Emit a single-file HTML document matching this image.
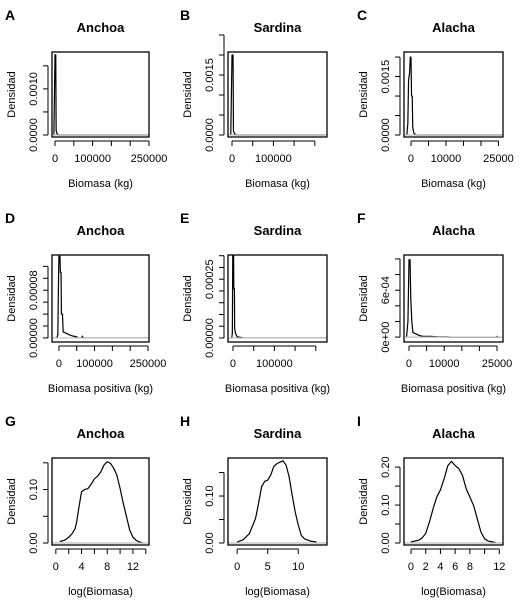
<!DOCTYPE html>
<html><head><meta charset="utf-8">
<style>
html,body{margin:0;padding:0;background:#fff;}
svg{display:block;font-family:"Liberation Sans",Arial,sans-serif;}
</style></head>
<body>
<svg id="fig" width="529" height="610" viewBox="0 0 529 610"></svg>
<script>
// ---- data arrays ----
const panelLetters = ["A","B","C","D","E","F","G","H","I"];
const panelTitles = ["Anchoa","Sardina","Alacha","Anchoa","Sardina","Alacha","Anchoa","Sardina","Alacha"];
const xTitles = ["Biomasa (kg)","Biomasa (kg)","Biomasa (kg)","Biomasa positiva (kg)","Biomasa positiva  (kg)","Biomasa positiva (kg)","log(Biomasa)","log(Biomasa)","log(Biomasa)"];

const xTicksA = [0,50000,100000,150000,200000,250000];
const xLabelsA = ["0","","100000","","","250000"];
const xTicksB = [0,50000,100000,150000,200000];
const xLabelsB = ["0","","100000","",""];
const xTicksC = [0,5000,10000,15000,20000,25000];
const xLabelsC = ["0","","10000","","","25000"];
const xTicksG = [0,2,4,6,8,10,12,14];
const xLabelsG = ["0","","4","","8","","12",""];
const xTicksH = [0,5,10];
const xLabelsH = ["0","5","10"];
const xTicksI = [0,2,4,6,8,10,12];
const xLabelsI = ["0","2","4","6","8","","12"];

const yTicksA = [0,0.0005,0.001,0.0015];
const yLabelsA = ["0.0000","","0.0010",""];
const yTicksB = [0,0.0005,0.001,0.0015,0.002,0.0025];
const yLabelsB = ["0.0000","","","0.0015","",""];
const yTicksC = [0,0.0005,0.001,0.0015,0.002];
const yLabelsC = ["0.0000","","","0.0015",""];
const yTicksD = [0,0.00002,0.00004,0.00006,0.00008,0.0001,0.00012];
const yLabelsD = ["0.00000","","","","0.00008","",""];
const yTicksE = [0,0.00005,0.0001,0.00015,0.0002,0.00025,0.0003,0.00035];
const yLabelsE = ["0.00000","","","","","0.00025","",""];
const yTicksF = [0,0.0002,0.0004,0.0006,0.0008,0.001];
const yLabelsF = ["0e+00","","","6e-04","",""];
const yTicksG = [0,0.05,0.1,0.15];
const yLabelsG = ["0.00","","0.10",""];
const yTicksI = [0,0.05,0.1,0.15,0.2];
const yLabelsI = ["0.00","","0.10","","0.20"];

const curveAx = [-3000,0,2000,3000,5000,10000,250000];
const curveAy = [0,0.00174,0.00174,0.0001,0.00003,0,0];
const curveBx = [-3000,0,2500,3500,6000,12000,225000];
const curveBy = [0,0.002,0.002,0.0001,0.00003,0,0];
const curveCx = [-1200,-900,-700,-400,-200,0,150,350,500,800,1500,26000];
const curveCy = [0,0.0003,0.0014,0.0016,0.002,0.002,0.001,0.001,0.0002,0.00005,0,0];
const curveDx = [-6000,-3000,-1500,0,3000,4000,6000,7000,10000,12000,20000,30000,40000,50000,52000,64000,66000,68000,250000];
const curveDy = [0,0.000005,0.00008,0.000137,0.000137,0.00011,0.00011,0.00004,0.00004,0.00001,0.000008,0.000005,0.000003,0.000002,0,0,0.000003,0,0];
const curveEx = [-3000,-1500,-500,1500,2000,3500,4000,6000,10000,20000,25000,225000];
const curveEy = [0,0.00002,0.00035,0.00035,0.00021,0.00021,0.00004,0.00002,0.000005,0.000002,0,0];
const curveFx = [-700,-300,0,300,500,800,1100,1500,2000,2500,3000,4000,6000,8000,11000,12000,24800,25000,25200,26000];
const curveFy = [0,0.0002,0.00099,0.00099,0.0005,0.0002,0.00006,0.00005,0.00004,0.00003,0.00002,0.00001,0.00001,0.000005,0.000003,0,0,0.00001,0,0];
const curveGx = [0.6,1,1.5,2,2.5,3,3.25,3.5,4,4.5,5,5.5,6,6.5,7,7.5,8,8.5,9,9.5,10,10.5,11,11.5,12,12.5,13,13.5];
const curveGy = [0.003,0.004,0.006,0.011,0.017,0.027,0.04,0.06,0.096,0.1,0.102,0.11,0.12,0.125,0.133,0.146,0.152,0.149,0.14,0.127,0.102,0.074,0.049,0.024,0.011,0.005,0.002,0.0005];
const curveHx = [0,1,2,3,3.5,4,4.5,5,5.5,6,6.5,7,7.5,8,8.5,9,9.5,10,10.5,11,12,13];
const curveHy = [0.002,0.007,0.02,0.052,0.084,0.12,0.131,0.134,0.145,0.163,0.169,0.172,0.175,0.166,0.141,0.102,0.066,0.038,0.016,0.009,0.004,0.002];
const curveIx = [0,1,1.5,2,2.5,3,3.5,4,4.5,5,5.5,6,6.5,7,7.5,8,8.5,9,9.5,10,10.5,11,11.5];
const curveIy = [0.003,0.007,0.013,0.025,0.055,0.09,0.121,0.14,0.169,0.204,0.215,0.204,0.196,0.178,0.143,0.121,0.099,0.064,0.029,0.011,0.005,0.003,0.001];

// ---- layout ----
const colBox = [[52,149],[228,327],[404,503]];
const rowBox = [[52,137],[255,342],[458,545]];
const panels = [
 {xd:[-8000,250000], yd:[-0.0000435,0.0018], xt:xTicksA, xl:xLabelsA, yt:yTicksA, yl:yLabelsA, cx:curveAx, cy:curveAy},
 {xd:[-9700,229500], yd:[-0.00005,0.002075], xt:xTicksB, xl:xLabelsB, yt:yTicksB, yl:yLabelsB, cx:curveBx, cy:curveBy},
 {xd:[-2000,26300], yd:[-0.000051,0.00213], xt:xTicksC, xl:xLabelsC, yt:yTicksC, yl:yLabelsC, cx:curveCx, cy:curveCy},
 {xd:[-19400,252800], yd:[-0.0000068,0.000139], xt:xTicksA, xl:xLabelsA, yt:yTicksD, yl:yLabelsD, cx:curveDx, cy:curveDy},
 {xd:[-12000,227000], yd:[-0.0000172,0.000353], xt:xTicksB, xl:xLabelsB, yt:yTicksE, yl:yLabelsE, cx:curveEx, cy:curveEy},
 {xd:[-1420,26700], yd:[-0.0000625,0.00105], xt:xTicksC, xl:xLabelsC, yt:yTicksF, yl:yLabelsF, cx:curveFx, cy:curveFy},
 {xd:[-0.6,14.5], yd:[-0.0037,0.159], xt:xTicksG, xl:xLabelsG, yt:yTicksG, yl:yLabelsG, cx:curveGx, cy:curveGy},
 {xd:[-1.5,14.7], yd:[-0.0043,0.181], xt:xTicksH, xl:xLabelsH, yt:yTicksG, yl:yLabelsG, cx:curveHx, cy:curveHy},
 {xd:[-0.95,12.5], yd:[-0.0053,0.224], xt:xTicksI, xl:xLabelsI, yt:yTicksI, yl:yLabelsI, cx:curveIx, cy:curveIy}
];
const letterX = [5,180,357];
const NS = "http://www.w3.org/2000/svg";
const svg = document.getElementById('fig');
function mk(tag, attrs, parent){const e=document.createElementNS(NS,tag);for(const k in attrs)e.setAttribute(k,attrs[k]);(parent||svg).appendChild(e);return e;}

panels.forEach((p,i)=>{
  const c=i%3, r=Math.floor(i/3);
  const [x0,x1]=colBox[c], [y0,y1]=rowBox[r];
  const g=mk('g',{});
  
  
  const sx=v=>x0+(v-p.xd[0])/(p.xd[1]-p.xd[0])*(x1-x0);
  const sy=v=>y1-(v-p.yd[0])/(p.yd[1]-p.yd[0])*(y1-y0);
  const L=mk('text',{x:letterX[c],y:y0-32,'font-size':14,'font-weight':'bold',fill:'#000'},g);
  L.textContent=panelLetters[i];
  
  
  const T=mk('text',{x:(x0+x1)/2,y:y0-20,'font-size':13,'font-weight':'bold','text-anchor':'middle',fill:'#000'},g);
  T.textContent=panelTitles[i];
  
  
  // curve
  const pts=p.cx.map((v,k)=>sx(v).toFixed(2)+','+sy(p.cy[k]).toFixed(2)).join(' ');
  const pl=mk('polyline',{points:pts,fill:'none',stroke:'#000','stroke-width':1.2,'stroke-linejoin':'round'},g);
  
  
  // baseline drawn over the curve
  const b=mk('line',{x1:x0,x2:x1,y1:sy(0),y2:sy(0),stroke:'#bebebe','stroke-width':1.2},g);
  
  
  const bx=mk('rect',{x:x0,y:y0,width:x1-x0,height:y1-y0,fill:'none',stroke:'#000','stroke-width':1.3},g);
  
  
  const ax=y1+4;
  const xa=mk('g',{},g);
  
  
  mk('line',{x1:sx(p.xt[0]),x2:sx(p.xt[p.xt.length-1]),y1:ax,y2:ax,stroke:'#000','stroke-width':1},xa);
  p.xt.forEach((v,k)=>{
    mk('line',{x1:sx(v),x2:sx(v),y1:ax,y2:ax+5,stroke:'#000','stroke-width':1},xa);
    if(p.xl[k]){const t=mk('text',{x:sx(v),y:ax+21,'font-size':11,'text-anchor':'middle',fill:'#000'},xa);t.textContent=p.xl[k];
      
      }
  });
  const xt=mk('text',{x:(x0+x1)/2,y:y1+50,'font-size':11,'text-anchor':'middle',fill:'#000'},g);
  xt.textContent=xTitles[i];
  
  
  const ay=x0-4;
  const ya=mk('g',{},g);
  
  
  mk('line',{x1:ay,x2:ay,y1:sy(p.yt[0]),y2:sy(p.yt[p.yt.length-1]),stroke:'#000','stroke-width':1},ya);
  p.yt.forEach((v,k)=>{
    mk('line',{x1:ay,x2:ay-5,y1:sy(v),y2:sy(v),stroke:'#000','stroke-width':1},ya);
    if(p.yl[k]){const tx=x0-15, ty=sy(v);
      const t=mk('text',{x:tx,y:ty,'font-size':11,'text-anchor':'middle',fill:'#000',transform:`rotate(-90 ${tx} ${ty})`},ya);t.textContent=p.yl[k];
      
      }
  });
  const yx=x0-37, yy=(y0+y1)/2;
  const yt=mk('text',{x:yx,y:yy,'font-size':11,'text-anchor':'middle',fill:'#000',transform:`rotate(-90 ${yx} ${yy})`},g);
  yt.textContent='Densidad';
  
  
});
</script>
</body></html>
